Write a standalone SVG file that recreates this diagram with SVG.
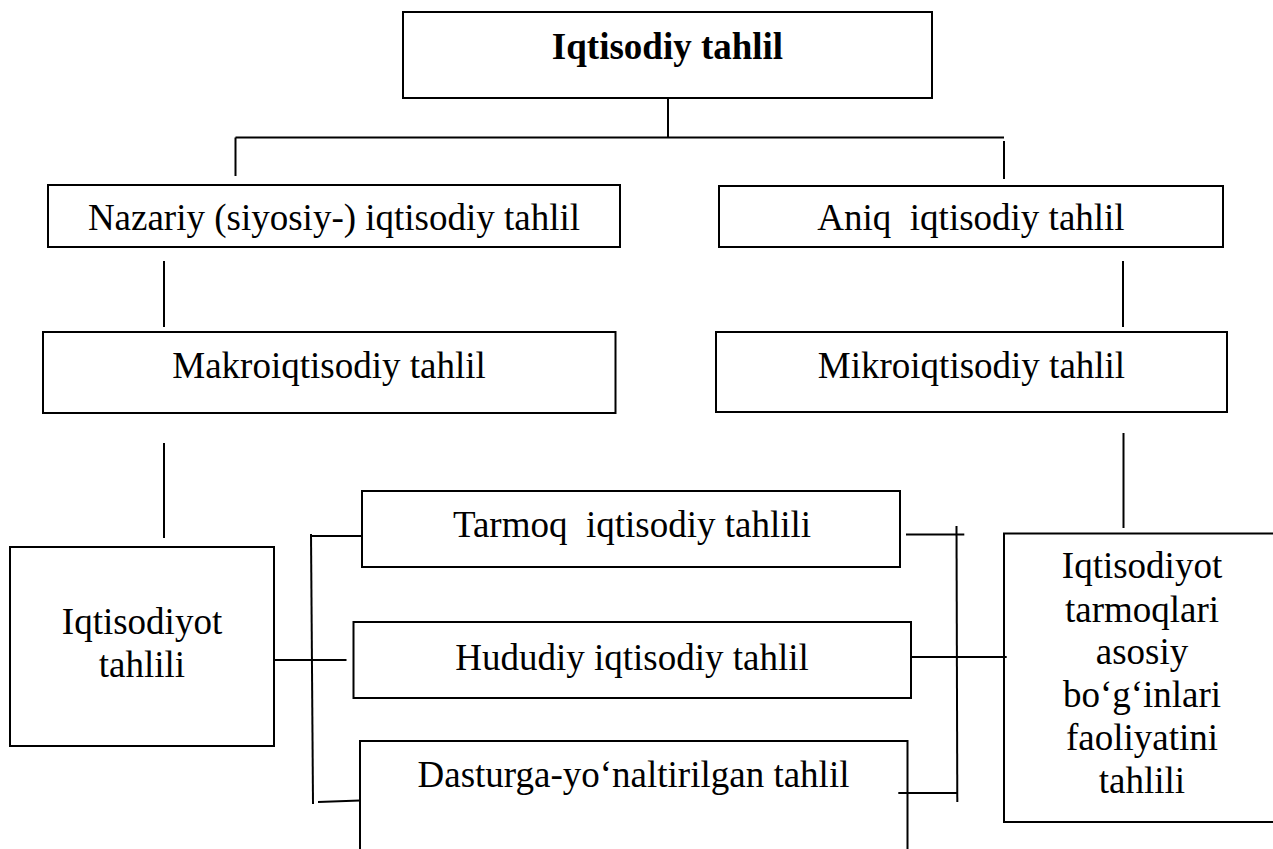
<svg xmlns="http://www.w3.org/2000/svg" width="1273" height="849" viewBox="0 0 1273 849">
<defs>
<style>
.box{fill:#fff;stroke:#000;stroke-width:2}
.ln{fill:none;stroke:#000;stroke-width:2}
.t{font-family:"Liberation Serif","Times New Roman",serif;font-size:37px;fill:#000;text-anchor:middle}
.b{font-weight:bold}
</style>
</defs>
<rect width="1273" height="849" fill="#fff"/>
<g id="connectors">
<line class="ln" x1="668" y1="98" x2="668" y2="137.5"/>
<line class="ln" x1="235.5" y1="137.5" x2="1004" y2="137.5"/>
<line class="ln" x1="235.5" y1="137.5" x2="235.5" y2="176"/>
<line class="ln" x1="1004" y1="141" x2="1004" y2="179"/>
<line class="ln" x1="164" y1="261" x2="164" y2="327"/>
<line class="ln" x1="1123" y1="261" x2="1123" y2="327"/>
<line class="ln" x1="164" y1="443" x2="164" y2="538"/>
<line class="ln" x1="1123.5" y1="433" x2="1123.5" y2="528"/>
<line class="ln" x1="311" y1="534" x2="313" y2="804"/>
<line class="ln" x1="312" y1="536" x2="370.5" y2="536"/>
<line class="ln" x1="269.5" y1="660" x2="346.5" y2="660"/>
<line class="ln" x1="318" y1="802" x2="360" y2="800.5"/>
<line class="ln" x1="956.5" y1="526" x2="957.3" y2="802"/>
<line class="ln" x1="906" y1="534.5" x2="964.3" y2="534.5"/>
<line class="ln" x1="910.7" y1="657" x2="1006.7" y2="657"/>
<line class="ln" x1="898.3" y1="793" x2="957" y2="793"/>
</g>
<g id="n-iqtisodiy-tahlil">
<rect class="box" x="403" y="12" width="529" height="86"/>
<text class="t b" x="667.5" y="59">Iqtisodiy tahlil</text>
</g>
<g id="n-nazariy">
<rect class="box" x="48" y="185" width="572" height="62"/>
<text class="t" x="334" y="230">Nazariy (siyosiy-) iqtisodiy tahlil</text>
</g>
<g id="n-aniq">
<rect class="box" x="719" y="186" width="504" height="61"/>
<text class="t" x="971" y="230" xml:space="preserve">Aniq  iqtisodiy tahlil</text>
</g>
<g id="n-makro">
<rect class="box" x="43" y="332" width="572.5" height="81"/>
<text class="t" x="329" y="378">Makroiqtisodiy tahlil</text>
</g>
<g id="n-mikro">
<rect class="box" x="716" y="332" width="511" height="80"/>
<text class="t" x="971.5" y="378">Mikroiqtisodiy tahlil</text>
</g>
<g id="n-iqtisodiyot-tahlili">
<rect class="box" x="10" y="547" width="264" height="199"/>
<text class="t" x="142" y="634">Iqtisodiyot</text>
<text class="t" x="142" y="677">tahlili</text>
</g>
<g id="n-tarmoq">
<rect class="box" x="362" y="491" width="538" height="76"/>
<text class="t" x="632" y="537" xml:space="preserve">Tarmoq  iqtisodiy tahlili</text>
</g>
<g id="n-hududiy">
<rect class="box" x="353.5" y="622" width="557.5" height="76"/>
<text class="t" x="632" y="670">Hududiy iqtisodiy tahlil</text>
</g>
<g id="n-dasturga">
<path class="ln" d="M360,860 V741 H907.5 V860"/>
<text class="t" x="633.5" y="787">Dasturga-yo‘naltirilgan tahlil</text>
</g>
<g id="n-tarmoqlari">
<path class="ln" d="M1280,533.5 H1004 V822 H1280"/>
<text class="t" x="1142" y="578">Iqtisodiyot</text>
<text class="t" x="1142" y="621.5">tarmoqlari</text>
<text class="t" x="1142" y="664">asosiy</text>
<text class="t" x="1142" y="707">bo‘g‘inlari</text>
<text class="t" x="1142" y="750">faoliyatini</text>
<text class="t" x="1142" y="793">tahlili</text>
</g>
</svg>
